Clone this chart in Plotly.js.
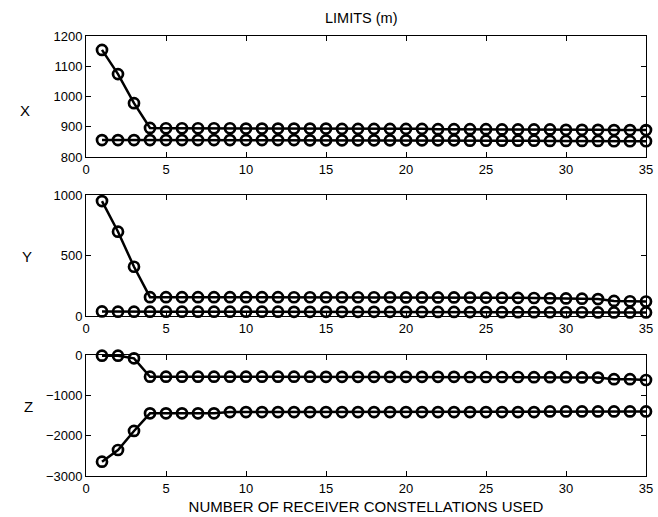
<!DOCTYPE html>
<html><head><meta charset="utf-8">
<script src="https://cdn.plot.ly/plotly-3.0.1.min.js"></script>
<style>body{margin:0;background:#fff}#plot{width:658px;height:517px}</style>
</head><body><div id="plot"></div>
<script>
const n = [];
for (let i = 1; i <= 35; i++) n.push(i);
const xUpper = [1154,1074,978,896,895,895,895,895,895,894,894,894,894,894,894,893,893,893,893,893,893,892,892,892,892,891,891,891,891,890,890,890,889,889,889];
const xLower = [856,856,856,856,856,856,856,856,856,856,856,856,856,855,855,855,855,855,855,855,855,855,855,854,854,854,854,854,853,853,853,853,852,852,852];
const yUpper = [950,697,407,156,156,156,156,156,156,156,156,156,155,155,155,155,155,155,155,154,154,154,154,153,152,151,150,149,147,145,143,140,125,122,120];
const yLower = [38,36,36,36,36,36,36,36,36,36,36,36,35,35,35,35,35,35,35,34,34,34,34,33,33,32,32,32,31,31,31,30,30,30,30];
const zUpper = [-17,-17,-82,-538,-538,-538,-538,-538,-538,-538,-538,-538,-538,-538,-540,-540,-540,-540,-540,-540,-540,-540,-540,-545,-545,-545,-545,-550,-550,-550,-555,-560,-600,-600,-620];
const zLower = [-2645,-2355,-1883,-1447,-1447,-1447,-1447,-1447,-1415,-1415,-1415,-1415,-1415,-1415,-1415,-1415,-1415,-1415,-1415,-1415,-1415,-1415,-1415,-1415,-1415,-1415,-1415,-1415,-1400,-1400,-1400,-1400,-1400,-1400,-1400];
const xTicks = [0,5,10,15,20,25,30,35];

function tr(y, ax) {
  return {x: n, y: y, xaxis: 'x' + ax, yaxis: 'y' + ax, mode: 'lines+markers', type: 'scatter',
    line: {color: '#000', width: 2.5},
    marker: {symbol: 'circle-open', size: 10, color: '#000', line: {width: 2.7, color: '#000'}},
    cliponaxis: false, hoverinfo: 'skip'};
}
const data = [tr(xUpper,''), tr(xLower,''), tr(yUpper,'2'), tr(yLower,'2'), tr(zUpper,'3'), tr(zLower,'3')];

const fam = 'Liberation Sans, Arial, sans-serif';
const font = {family: fam, size: 13, color: '#000'};
function xa(anchor) {
  return {anchor: anchor, range: [0, 35], tickvals: xTicks, ticks: 'inside', ticklen: 5, tickcolor: '#000',
    showline: true, linecolor: '#000', linewidth: 1, mirror: 'ticks', showgrid: false, zeroline: false,
    tickfont: font};
}
function ya(anchor, domain, range, ticks) {
  return {anchor: anchor, domain: domain, range: range, tickvals: ticks, ticks: 'inside', ticklen: 5, tickcolor: '#000',
    showline: true, linecolor: '#000', linewidth: 1, mirror: 'ticks', showgrid: false, zeroline: false,
    tickfont: font, tickformat: 'd'};
}
const layout = {
  width: 658, height: 517,
  margin: {l: 86, r: 12, t: 36, b: 41},
  paper_bgcolor: '#fff', plot_bgcolor: '#fff',
  showlegend: false, font: font,
  title: {text: 'LIMITS (m)', x: 0.549, xanchor: 'center', y: 0.965, yanchor: 'middle', font: {family: fam, size: 14.5, color: '#000'}},
  xaxis: xa('y'), xaxis2: xa('y2'),
  xaxis3: Object.assign(xa('y3'), {title: {text: 'NUMBER OF RECEIVER CONSTELLATIONS USED', font: {family: fam, size: 15, color: '#000'}, standoff: 6}}),
  yaxis: ya('x', [0.725, 1], [800, 1200], [800,900,1000,1100,1200]),
  yaxis2: ya('x2', [0.3636, 0.6386], [0, 1000], [0,500,1000]),
  yaxis3: ya('x3', [0, 0.275], [-3000, 0], [-3000,-2000,-1000,0]),
  annotations: [
    {text: 'X', xref: 'paper', yref: 'paper', x: -0.122, y: 0.8545, showarrow: false, font: {family: fam, size: 15, color: '#000'}},
    {text: 'Y', xref: 'paper', yref: 'paper', x: -0.118, y: 0.498, showarrow: false, font: {family: fam, size: 15, color: '#000'}},
    {text: 'Z', xref: 'paper', yref: 'paper', x: -0.114, y: 0.134, showarrow: false, font: {family: fam, size: 15, color: '#000'}}
  ]
};
Plotly.newPlot('plot', data, layout, {staticPlot: true, displayModeBar: false});
</script></body></html>
